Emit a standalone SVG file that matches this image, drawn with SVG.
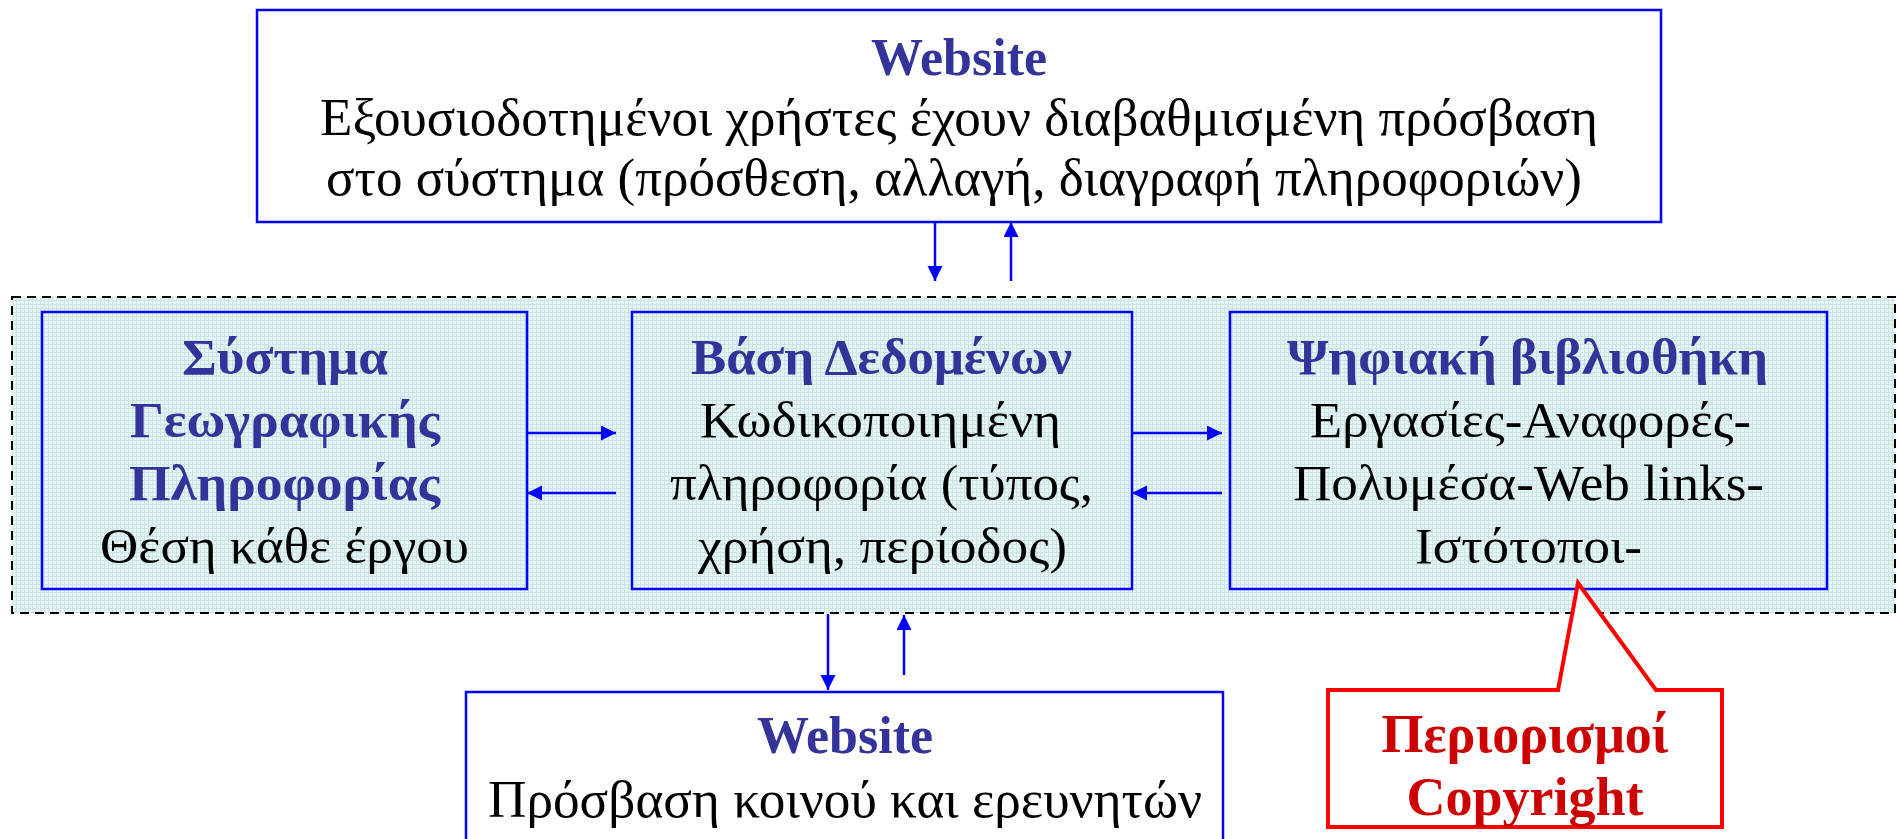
<svg xmlns="http://www.w3.org/2000/svg" width="1898" height="839" viewBox="0 0 1898 839">
<style>
  .box { fill: none; stroke: #0000ff; stroke-width: 2.5; }
  .wbox { fill: #ffffff; stroke: #0000ff; stroke-width: 2.5; }
  .t { font-family: "Liberation Serif", "Times New Roman", serif; fill: #000000; }
  .h { font-family: "Liberation Serif", "Times New Roman", serif; fill: #333399; font-weight: bold; }
  .r { font-family: "Liberation Serif", "Times New Roman", serif; text-anchor: middle; fill: #cc0000; font-weight: bold; }
  .arr { stroke: #0000ff; stroke-width: 2.5; fill: none; marker-end: url(#ah); }
</style>
<defs>
  <pattern id="grid" width="4" height="4" patternUnits="userSpaceOnUse">
    <rect width="4" height="4" fill="#e8f5f5"/>
    <path d="M0,0.5 H4 M0.5,0 V4" stroke="#cae4e7" stroke-width="1"/>
  </pattern>
  <marker id="ah" markerUnits="userSpaceOnUse" markerWidth="16" markerHeight="16" refX="15" refY="7.5" orient="auto">
    <path d="M0,0 L15,7.5 L0,15 z" fill="#0000ff"/>
  </marker>
</defs>
<rect width="1898" height="839" fill="#ffffff"/>

<g id="container">
  <rect x="12" y="297" width="1883" height="316" fill="url(#grid)" stroke="#000000" stroke-width="2" stroke-dasharray="9,6"/>
</g>

<g id="website-top">
  <rect class="wbox" x="257" y="10" width="1404" height="212"/>
  <text class="h" x="959" y="75" font-size="52" text-anchor="middle">Website</text>
  <text class="t" x="320" y="135" font-size="52" textLength="1278" lengthAdjust="spacingAndGlyphs">Εξουσιοδοτημένοι χρήστες έχουν διαβαθμισμένη πρόσβαση</text>
  <text class="t" x="326" y="195" font-size="52" textLength="1256" lengthAdjust="spacingAndGlyphs">στο σύστημα (πρόσθεση, αλλαγή, διαγραφή πληροφοριών)</text>
</g>

<g id="gis">
  <rect class="box" x="42" y="312" width="485" height="277"/>
  <text class="h" x="182" y="374" font-size="51" textLength="206" lengthAdjust="spacingAndGlyphs">Σύστημα</text>
  <text class="h" x="130" y="437" font-size="51" textLength="310" lengthAdjust="spacingAndGlyphs">Γεωγραφικής</text>
  <text class="h" x="129" y="500" font-size="51" textLength="311" lengthAdjust="spacingAndGlyphs">Πληροφορίας</text>
  <text class="t" x="100" y="563" font-size="51" textLength="369" lengthAdjust="spacingAndGlyphs">Θέση κάθε έργου</text>
</g>

<g id="database">
  <rect class="box" x="632" y="312" width="500" height="277"/>
  <text class="h" x="691" y="374" font-size="51" textLength="381" lengthAdjust="spacingAndGlyphs">Βάση Δεδομένων</text>
  <text class="t" x="700" y="437" font-size="51" textLength="361" lengthAdjust="spacingAndGlyphs">Κωδικοποιημένη</text>
  <text class="t" x="670" y="500" font-size="51" textLength="423" lengthAdjust="spacingAndGlyphs">πληροφορία (τύπος,</text>
  <text class="t" x="698" y="563" font-size="51" textLength="369" lengthAdjust="spacingAndGlyphs">χρήση, περίοδος)</text>
</g>

<g id="library">
  <rect class="box" x="1230" y="312" width="597" height="277"/>
  <text class="h" x="1287" y="374" font-size="51" textLength="481" lengthAdjust="spacingAndGlyphs">Ψηφιακή βιβλιοθήκη</text>
  <text class="t" x="1310" y="437" font-size="51" textLength="441" lengthAdjust="spacingAndGlyphs">Εργασίες-Αναφορές-</text>
  <text class="t" x="1293" y="500" font-size="51" textLength="471" lengthAdjust="spacingAndGlyphs">Πολυμέσα-Web links-</text>
  <text class="t" x="1415" y="563" font-size="51" textLength="227" lengthAdjust="spacingAndGlyphs">Ιστότοποι-</text>
</g>

<g id="website-bottom">
  <rect class="wbox" x="466" y="692" width="757" height="170"/>
  <text class="h" x="845" y="753" font-size="52" text-anchor="middle">Website</text>
  <text class="t" x="488" y="817" font-size="52" textLength="714" lengthAdjust="spacingAndGlyphs">Πρόσβαση κοινού και ερευνητών</text>
</g>

<g id="copyright-callout">
  <path d="M1328,690 L1558,690 L1578,583 L1656,690 L1722,690 L1722,827 L1328,827 Z" fill="#ffffff" stroke="#ff0000" stroke-width="4" stroke-linejoin="miter"/>
  <text class="r" x="1525" y="752" font-size="54">Περιορισμοί</text>
  <text class="r" x="1525" y="815" font-size="54">Copyright</text>
</g>

<g id="connectors">
  <line class="arr" x1="935" y1="222" x2="935" y2="281"/>
  <line class="arr" x1="1011" y1="281" x2="1011" y2="222"/>
  <line class="arr" x1="527" y1="433" x2="616" y2="433"/>
  <line class="arr" x1="616" y1="493" x2="527" y2="493"/>
  <line class="arr" x1="1132" y1="433" x2="1222" y2="433"/>
  <line class="arr" x1="1222" y1="493" x2="1132" y2="493"/>
  <line class="arr" x1="828" y1="614" x2="828" y2="690"/>
  <line class="arr" x1="904" y1="675" x2="904" y2="615"/>
</g>
</svg>
